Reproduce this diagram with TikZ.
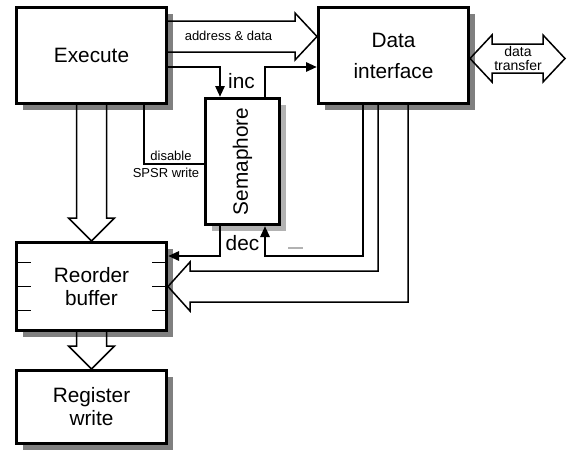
\documentclass[tikz,border=0pt]{standalone}
\usepackage{fontspec}
\setmainfont{Liberation Sans}
\usetikzlibrary{shadows,calc,arrows.meta}
\begin{document}
\begin{tikzpicture}[x=1pt,y=-1pt,
  box/.style={draw, line width=3pt, fill=white, inner sep=0pt, align=center,
    font=\fontsize{20.8}{23}\selectfont},
  shad/.style={drop shadow={shadow xshift=6pt, shadow yshift=-6pt, fill=black!50, opacity=1}},
  lightshad/.style={drop shadow={shadow xshift=6pt, shadow yshift=-6pt, fill=black!30, opacity=1}},
  sig/.style={line width=2.7pt, -{Triangle[length=11pt,width=9pt]}},
  wire/.style={line width=2.7pt},
  hollow/.style={line width=1.5pt, line join=miter},
  tickmark/.style={line width=1.5pt},
  small/.style={font=\fontsize{13}{14}\selectfont, inner sep=0pt, align=center},
  big/.style={font=\fontsize{20.8}{23}\selectfont, inner sep=0pt}]
\useasboundingbox (0,0) rectangle (572,450);

% blocks
\node[box, shad, minimum width=150pt, minimum height=96pt] (exe) at (91.5,55.5) {Execute};
\node[box, shad, minimum width=150pt, minimum height=96pt,
      font=\fontsize{20.8}{31}\selectfont] (di) at (393.5,55.5) {Data\\interface};
\node[box, lightshad, minimum width=74pt, minimum height=126pt] (sem) at (242.5,161.5)
      {\rotatebox{90}{Semaphore}};
\node[box, shad, minimum width=150pt, minimum height=88pt] (rob) at (91.5,286.5) {Reorder\\buffer};
\node[box, shad, minimum width=150pt, minimum height=73pt] (reg) at (91.5,407) {Register\\write};

% reorder buffer slots
\foreach \dy in {-24,0,24} {
  \draw[tickmark] ($(rob.west)+(0,\dy)$) -- ++(16,0);
  \draw[tickmark] ($(rob.east)+(0,\dy)$) -- ++(-16,0);
}

% wide (hollow) arrows
\draw[hollow] ([yshift=34.5pt]exe.east) -- ++(127,0) -- ++(0,-8)
  -- ([yshift=19pt]di.west) -- ++(-22,23.5) -- ++(0,-8) -- ([yshift=3.5pt]exe.east);
\draw[hollow] ([xshift=-15pt]exe.south) -- ++(0,113) -- ++(-8,0)
  -- (rob.north) -- ++(23,-23) -- ++(-8,0) -- ([xshift=15pt]exe.south);
\draw[hollow] ([xshift=-15pt]rob.south) -- ++(0,14) -- ++(-8,0)
  -- (reg.north) -- ++(23,-23) -- ++(-8,0) -- ([xshift=15pt]rob.south);
\draw[hollow] ([xshift=-15.5pt]di.south) -- ++(0,166)
  -- ($(rob.east)+(22,-15.5)$) -- ++(0,-9) -- (rob.east)
  -- ++(22,24.5) -- ++(0,-9) -| ([xshift=14.5pt]di.south);
\draw[hollow] ([yshift=-3pt]di.east) -- ++(22,-23.5) -- ++(0,9) -- ++(51,0) -- ++(0,-9)
  -- ++(22,23.5) -- ++(-22,23.5) -- ++(0,-9) -- ++(-51,0) -- ++(0,9) -- cycle;

% control signals
\draw[sig] ([yshift=-11.5pt]exe.east) -| ([xshift=-22.5pt]sem.north);
\draw[sig] ([xshift=22.5pt]sem.north) |- ([yshift=-11.5pt]di.west);
\draw[wire] ([xshift=52.5pt]exe.south) |- ([yshift=-2.5pt]sem.west);
\draw[sig] ([xshift=-22.5pt]sem.south) |- ([yshift=30.5pt]rob.east);
\draw[sig] ([xshift=-30.5pt]di.south) -- ++(0,151) -| ([xshift=22.5pt]sem.south);
\draw[black!30, line width=1.5pt] (288,248) -- (303,248);

% labels
\node[small] (lad) at (228.5,35.5) {address \& data};
\node[small, font=\fontsize{14}{14}\selectfont] (ldt) at (518,58) {data\\transfer};
\node[small] (ldis) at (171,156) {disable};
\node[small] (lspsr) at (166,173) {SPSR write};
\node[big, anchor=base west] (linc) at (228,88) {inc};
\node[big, anchor=base west] (ldec) at (225.5,250) {dec};
\end{tikzpicture}
\end{document}
